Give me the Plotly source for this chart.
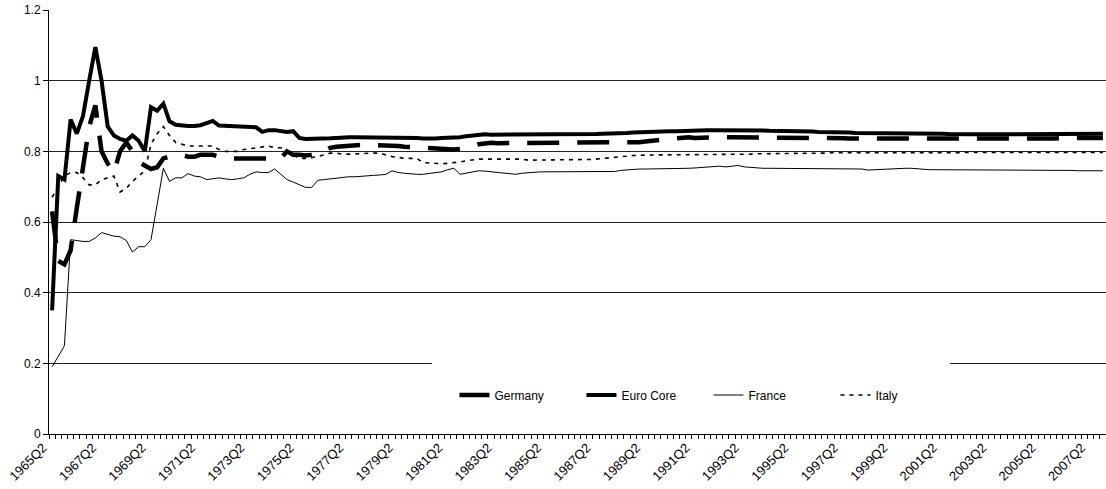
import plotly.graph_objects as go

START_YEAR, START_Q = 1965, 2
N_QUARTERS = 171

quarters = []
y, q = START_YEAR, START_Q
for _ in range(N_QUARTERS):
    quarters.append(f"{y}Q{q}")
    q += 1
    if q > 4:
        q = 1
        y += 1

tick_labels = [f"{yr}Q2" for yr in range(1965, 2008, 2)]

euro_core = [
    0.35, 0.73, 0.72, 0.89, 0.85, 0.90, 1.00, 1.095, 1.00, 0.87,
    0.845, 0.835, 0.83, 0.845, 0.83, 0.80, 0.925, 0.915, 0.935, 0.885,
    0.875, 0.873, 0.872, 0.872, 0.874, 0.88, 0.886, 0.873, 0.872, 0.872,
    0.87, 0.87, 0.87, 0.868, 0.855, 0.86, 0.86, 0.857, 0.855, 0.857,
    0.838, 0.835, 0.835, 0.836, 0.836, 0.837, 0.838, 0.84, 0.84, 0.84,
    0.84, 0.84, 0.839, 0.838, 0.838, 0.839, 0.84, 0.84, 0.84, 0.838,
    0.836, 0.835, 0.836, 0.838, 0.838, 0.84, 0.84, 0.843, 0.845, 0.848,
    0.848, 0.847, 0.847, 0.847, 0.848, 0.848, 0.848, 0.848, 0.848, 0.848,
    0.848, 0.848, 0.848, 0.848, 0.848, 0.848, 0.848, 0.849, 0.849, 0.85,
    0.85, 0.85, 0.851, 0.852, 0.853, 0.854, 0.855, 0.855, 0.856, 0.856,
    0.857, 0.857, 0.858, 0.858, 0.859, 0.859, 0.86, 0.86, 0.86, 0.86,
    0.86, 0.861, 0.86, 0.86, 0.859, 0.859, 0.858, 0.858, 0.858, 0.857,
    0.857, 0.857, 0.856, 0.856, 0.855, 0.855, 0.854, 0.854, 0.853, 0.853,
    0.852, 0.852, 0.852, 0.852, 0.851, 0.851, 0.851, 0.851, 0.851, 0.851,
    0.851, 0.851, 0.851, 0.851, 0.85, 0.849, 0.848, 0.848, 0.848, 0.848,
    0.848, 0.848, 0.848, 0.848, 0.848, 0.849, 0.849, 0.849, 0.849, 0.849,
    0.849, 0.849, 0.85, 0.85, 0.85, 0.85, 0.85, 0.85, 0.85, 0.85, 0.85,
]

germany = [
    0.63, 0.49, 0.48, 0.52, 0.64, 0.76, 0.87, 0.93, 0.80, 0.765,
    0.74, 0.80, 0.825, 0.80, 0.77, 0.76, 0.75, 0.755, 0.78, 0.785,
    0.785, 0.79, 0.785, 0.785, 0.79, 0.79, 0.79, 0.785, 0.78, 0.78,
    0.78, 0.78, 0.78, 0.78, 0.778, 0.778, 0.778, 0.78, 0.80, 0.79,
    0.79, 0.788, 0.79, 0.792, 0.80, 0.81, 0.813, 0.815, 0.817, 0.818,
    0.818, 0.818, 0.818, 0.818, 0.818, 0.816, 0.815, 0.813, 0.812, 0.81,
    0.808, 0.806, 0.805, 0.805, 0.805, 0.805, 0.807, 0.81, 0.815, 0.82,
    0.823, 0.824, 0.823, 0.823, 0.823, 0.823, 0.823, 0.823, 0.823, 0.823,
    0.823, 0.823, 0.823, 0.823, 0.823, 0.823, 0.823, 0.823, 0.824, 0.824,
    0.825, 0.825, 0.825, 0.825, 0.825, 0.826, 0.828, 0.83, 0.832, 0.834,
    0.837, 0.839, 0.84, 0.84, 0.838, 0.839, 0.84, 0.84, 0.84, 0.84,
    0.84, 0.84, 0.84, 0.839, 0.839, 0.838, 0.838, 0.838, 0.838, 0.838,
    0.838, 0.838, 0.838, 0.838, 0.838, 0.838, 0.838, 0.837, 0.837, 0.836,
    0.836, 0.835, 0.835, 0.835, 0.835, 0.835, 0.835, 0.834, 0.834, 0.833,
    0.833, 0.833, 0.833, 0.833, 0.833, 0.833, 0.833, 0.833, 0.833, 0.833,
    0.833, 0.833, 0.833, 0.834, 0.834, 0.835, 0.835, 0.835, 0.835, 0.835,
    0.835, 0.836, 0.836, 0.837, 0.837, 0.838, 0.838, 0.838, 0.838, 0.838, 0.838,
]

italy = [
    0.67, 0.70, 0.73, 0.74, 0.74, 0.725, 0.705, 0.705, 0.72, 0.725,
    0.73, 0.685, 0.695, 0.715, 0.73, 0.745, 0.82, 0.85, 0.87, 0.845,
    0.825, 0.82, 0.815, 0.815, 0.815, 0.815, 0.815, 0.805, 0.80, 0.80,
    0.80, 0.805, 0.808, 0.81, 0.812, 0.815, 0.81, 0.81, 0.80, 0.79,
    0.78, 0.78, 0.782, 0.785, 0.79, 0.795, 0.795, 0.792, 0.792, 0.793,
    0.795, 0.795, 0.795, 0.795, 0.79, 0.785, 0.783, 0.78, 0.78, 0.78,
    0.768, 0.767, 0.765, 0.765, 0.766, 0.767, 0.77, 0.773, 0.776, 0.778,
    0.778, 0.778, 0.778, 0.778, 0.778, 0.778, 0.778, 0.775, 0.775, 0.775,
    0.775, 0.775, 0.775, 0.775, 0.775, 0.775, 0.776, 0.777, 0.778, 0.78,
    0.782, 0.783, 0.785, 0.787, 0.788, 0.789, 0.79, 0.79, 0.79, 0.79,
    0.79, 0.79, 0.79, 0.79, 0.79, 0.79, 0.79, 0.791, 0.791, 0.791,
    0.792, 0.792, 0.792, 0.792, 0.793, 0.793, 0.793, 0.793, 0.793, 0.793,
    0.794, 0.794, 0.794, 0.795, 0.795, 0.795, 0.796, 0.796, 0.796, 0.797,
    0.797, 0.797, 0.797, 0.797, 0.797, 0.796, 0.796, 0.796, 0.795, 0.795,
    0.795, 0.795, 0.795, 0.795, 0.795, 0.795, 0.795, 0.795, 0.795, 0.795,
    0.795, 0.795, 0.795, 0.796, 0.796, 0.796, 0.797, 0.797, 0.797, 0.797,
    0.797, 0.797, 0.797, 0.797, 0.797, 0.797, 0.797, 0.797, 0.797, 0.797, 0.797,
]

france = [
    0.19, 0.22, 0.25, 0.55, 0.547, 0.545, 0.545, 0.555, 0.57, 0.565,
    0.56, 0.558, 0.548, 0.515, 0.53, 0.53, 0.55, 0.65, 0.752, 0.715,
    0.725, 0.725, 0.737, 0.73, 0.728, 0.72, 0.722, 0.725, 0.722, 0.72,
    0.722, 0.725, 0.735, 0.742, 0.74, 0.74, 0.75, 0.735, 0.72, 0.713,
    0.705, 0.698, 0.698, 0.718, 0.72, 0.722, 0.725, 0.727, 0.728, 0.728,
    0.73, 0.73, 0.732, 0.733, 0.735, 0.745, 0.74, 0.738, 0.736, 0.735,
    0.735, 0.737, 0.74, 0.742, 0.748, 0.752, 0.735, 0.738, 0.742, 0.745,
    0.744, 0.742, 0.742, 0.74, 0.737, 0.735, 0.738, 0.74, 0.742, 0.742,
    0.742, 0.742, 0.742, 0.742, 0.742, 0.742, 0.742, 0.742, 0.742, 0.742,
    0.742, 0.743, 0.746, 0.748, 0.75, 0.75, 0.75, 0.75, 0.75, 0.75,
    0.75, 0.75, 0.75, 0.752, 0.753, 0.754, 0.755, 0.757, 0.758, 0.756,
    0.758, 0.76, 0.756, 0.754, 0.752, 0.752, 0.752, 0.752, 0.752, 0.752,
    0.752, 0.752, 0.75, 0.75, 0.75, 0.75, 0.75, 0.75, 0.75, 0.75,
    0.75, 0.75, 0.747, 0.748, 0.75, 0.75, 0.751, 0.752, 0.752, 0.752,
    0.75, 0.748, 0.748, 0.748, 0.748, 0.748, 0.748, 0.748, 0.748, 0.748,
    0.748, 0.748, 0.748, 0.748, 0.748, 0.748, 0.747, 0.747, 0.747, 0.747,
    0.747, 0.747, 0.746, 0.746, 0.746, 0.746, 0.745, 0.745, 0.745, 0.745, 0.745,
]

x_idx = list(range(len(quarters)))
tick_idx = [quarters.index(t) for t in tick_labels]

FONT = "Liberation Sans, Arial, sans-serif"

fig = go.Figure()
fig.add_trace(go.Scatter(x=x_idx, y=france, name="France", mode="lines",
                         line=dict(color="black", width=1), legendrank=3))
fig.add_trace(go.Scatter(x=x_idx, y=italy, name="Italy", mode="lines",
                         line=dict(color="black", width=1.6, dash="4px,5px"), legendrank=4))
fig.add_trace(go.Scatter(x=x_idx, y=germany, name="Germany", mode="lines",
                         line=dict(color="black", width=4.5, dash="32px,18px"), legendrank=1))
fig.add_trace(go.Scatter(x=x_idx, y=euro_core, name="Euro Core", mode="lines",
                         line=dict(color="black", width=4), legendrank=2))

fig.update_layout(
    width=1106, height=489,
    margin=dict(l=49, r=0, t=10, b=55),
    paper_bgcolor="white", plot_bgcolor="white",
    font=dict(family=FONT, size=12, color="black"),
    showlegend=True,
    legend=dict(orientation="h", x=0.3836, y=0.092, xanchor="left", yanchor="middle",
                bgcolor="rgba(0,0,0,0)", borderwidth=0,
                entrywidth=82, entrywidthmode="pixels",
                font=dict(family=FONT, size=12, color="black"),
                traceorder="normal"),
    shapes=[dict(type="rect", xref="paper", yref="y", x0=0.3623, x1=0.8524,
                 y0=-0.002, y1=0.206, fillcolor="white", line=dict(width=0),
                 layer="above")],
)

fig.update_xaxes(
    range=[-0.5, len(quarters) - 0.5],
    tickmode="array", tickvals=tick_idx, ticktext=tick_labels,
    tickangle=-45, ticks="", showgrid=False, zeroline=False,
    showline=True, linecolor="black", linewidth=1,
    ticklabelshift=-9,
    tickfont=dict(family=FONT, size=13, color="black"),
    minor=dict(tick0=-0.5, dtick=1, ticks="outside", ticklen=4,
               tickcolor="black", tickwidth=1, showgrid=False),
)
fig.update_yaxes(
    range=[0, 1.2], tickmode="array", tickvals=[0, 0.2, 0.4, 0.6, 0.8, 1, 1.2],
    ticktext=["0", "0.2", "0.4", "0.6", "0.8", "1", "1.2"],
    ticks="outside", ticklen=5, tickcolor="black",
    showgrid=True, gridcolor="#222222", gridwidth=1, zeroline=False,
    showline=True, linecolor="black", linewidth=1,
    tickfont=dict(family=FONT, size=12, color="black"),
)

fig.write_html("out.html", config={"displayModeBar": False},
               post_script="document.body.style.margin='0';")
